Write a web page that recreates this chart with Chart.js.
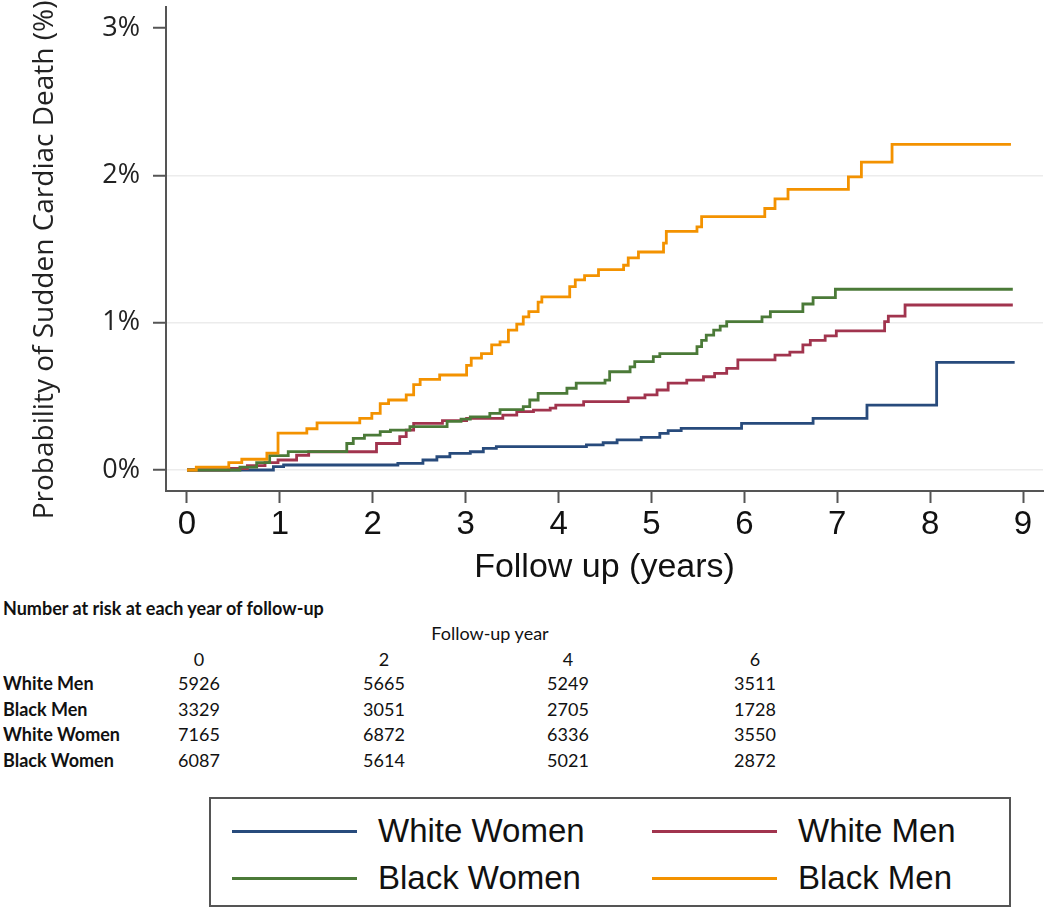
<!DOCTYPE html>
<html>
<head>
<meta charset="utf-8">
<script src="https://cdn.jsdelivr.net/npm/chart.js@4.4.1/dist/chart.umd.min.js"></script>
<style>
  body { margin: 0; background: #fff; width: 1050px; height: 915px; position: relative; overflow: hidden; }
  #wrap { position: absolute; left: 0; top: 0; width: 1050px; height: 590px; }
  .tx { position: absolute; font-family: Lato, "Open Sans", sans-serif; font-size: 18px; color: #111; white-space: nowrap; line-height: 1; }
  .b { font-weight: bold; }
  .c { transform: translateX(-50%); }
  #legend { position: absolute; left: 209px; top: 797px; width: 798px; height: 106px; border: 2px solid #555; }
  .lg { position: absolute; font-family: "Liberation Sans", Arial, sans-serif; font-size: 33px; color: #111; line-height: 1; }
  .ln { position: absolute; width: 125px; height: 3px; }
</style>
</head>
<body>
<div id="wrap"><canvas id="km"></canvas></div>

<div class="tx b" style="left:3px; top:599px;">Number at risk at each year of follow-up</div>
<div class="tx c" style="left:490px; top:624px;">Follow-up year</div>
<div id="risk"></div>

<div id="legend"></div>

<script>
document.addEventListener('DOMContentLoaded', () => {
  // step points: time (years) -> cumulative probability (%)
  const whiteWomenT = [0, 0.93, 1.04, 2.27, 2.54, 2.69, 2.83, 3.05, 3.19, 3.33, 4.30, 4.48, 4.63, 4.89, 5.09, 5.18, 5.32, 5.97, 6.74, 7.32, 8.07, 8.91];
  const whiteWomenP = [0, 0.023, 0.034, 0.045, 0.068, 0.09, 0.113, 0.124, 0.147, 0.158, 0.17, 0.185, 0.204, 0.222, 0.249, 0.267, 0.283, 0.317, 0.35, 0.44, 0.73, 0.73];

  const whiteMenT = [0, 0.45, 0.65, 0.84, 0.98, 1.18, 1.31, 2.04, 2.29, 2.36, 2.44, 2.75, 3.01, 3.40, 3.55, 3.73, 3.91, 3.97, 4.27, 4.75, 4.93, 5.06, 5.18, 5.38, 5.56, 5.68, 5.81, 5.93, 6.33, 6.49, 6.63, 6.71, 6.87, 6.99, 7.51, 7.55, 7.73, 8.89];
  const whiteMenP = [0, 0.01, 0.03, 0.05, 0.068, 0.10, 0.124, 0.18, 0.226, 0.27, 0.317, 0.335, 0.35, 0.373, 0.396, 0.407, 0.42, 0.44, 0.464, 0.49, 0.51, 0.543, 0.59, 0.61, 0.633, 0.656, 0.69, 0.747, 0.78, 0.80, 0.85, 0.88, 0.91, 0.945, 1.007, 1.045, 1.12, 1.12];

  const blackWomenT = [0, 0.57, 0.75, 0.89, 1.09, 1.72, 1.79, 1.91, 2.08, 2.19, 2.40, 2.80, 2.95, 3.05, 3.26, 3.37, 3.62, 3.69, 3.78, 4.09, 4.19, 4.50, 4.55, 4.77, 4.82, 5.02, 5.09, 5.49, 5.54, 5.59, 5.67, 5.74, 5.81, 6.19, 6.28, 6.63, 6.74, 6.98, 8.89];
  const blackWomenP = [0, 0.02, 0.05, 0.097, 0.125, 0.18, 0.215, 0.237, 0.26, 0.27, 0.294, 0.33, 0.345, 0.36, 0.385, 0.41, 0.43, 0.475, 0.52, 0.555, 0.59, 0.61, 0.667, 0.70, 0.735, 0.77, 0.79, 0.837, 0.88, 0.916, 0.95, 0.977, 1.007, 1.04, 1.075, 1.127, 1.17, 1.227, 1.227];

  const blackMenT = [0, 0.10, 0.45, 0.59, 0.86, 0.98, 1.29, 1.40, 1.86, 1.99, 2.08, 2.17, 2.36, 2.44, 2.51, 2.72, 3.01, 3.06, 3.17, 3.28, 3.37, 3.46, 3.55, 3.62, 3.68, 3.78, 3.82, 4.12, 4.18, 4.28, 4.43, 4.70, 4.75, 4.86, 5.13, 5.16, 5.49, 5.54, 6.22, 6.33, 6.47, 7.12, 7.26, 7.59, 8.87];
  const blackMenP = [0, 0.02, 0.05, 0.073, 0.115, 0.25, 0.28, 0.32, 0.35, 0.385, 0.45, 0.475, 0.51, 0.58, 0.615, 0.645, 0.71, 0.76, 0.79, 0.85, 0.87, 0.95, 0.99, 1.04, 1.075, 1.14, 1.175, 1.245, 1.29, 1.32, 1.36, 1.39, 1.44, 1.48, 1.54, 1.62, 1.65, 1.72, 1.775, 1.84, 1.905, 1.99, 2.09, 2.21, 2.21];

  // number at risk table
  const riskYears = [0, 2, 4, 6];
  const riskGroups = ['White Men', 'Black Men', 'White Women', 'Black Women'];
  const riskWhiteMen = [5926, 5665, 5249, 3511];
  const riskBlackMen = [3329, 3051, 2705, 1728];
  const riskWhiteWomen = [7165, 6872, 6336, 3550];
  const riskBlackWomen = [6087, 5614, 5021, 2872];

  const legendLabels = ['White Women', 'White Men', 'Black Women', 'Black Men'];
  const COLORS = { ww: '#284b7c', wm: '#a1344e', bw: '#4b7a38', bm: '#f39200' };

  const pts = (t, p) => t.map((x, i) => ({ x, y: p[i] }));

  const mkSet = (label, t, p, color, order) => ({
    label,
    data: pts(t, p),
    borderColor: color,
    backgroundColor: color,
    borderWidth: 2.8,
    pointRadius: 0,
    stepped: true,
    fill: false,
    order,
  });

  const datasets = [
    mkSet('White Women', whiteWomenT, whiteWomenP, COLORS.ww, 4),
    mkSet('White Men', whiteMenT, whiteMenP, COLORS.wm, 3),
    mkSet('Black Women', blackWomenT, blackWomenP, COLORS.bw, 2),
    mkSet('Black Men', blackMenT, blackMenP, COLORS.bm, 1),
  ];

  const axisCol = '#555';

  new Chart(document.getElementById('km'), {
    type: 'line',
    data: { datasets },
    options: {
      responsive: true,
      maintainAspectRatio: false,
      animation: false,
      layout: { padding: { top: 7, right: 7, left: 0, bottom: 0 } },
      plugins: { legend: { display: false }, tooltip: { enabled: false } },
      scales: {
        x: {
          type: 'linear',
          min: -0.226,
          max: 9.215,
          afterFit: (s) => { s.height = 99; s.paddingLeft = 0; s.paddingRight = 0; },
          border: { display: true, color: axisCol, width: 2 },
          grid: { drawOnChartArea: false, drawTicks: true, tickLength: 12, tickColor: axisCol, tickWidth: 2 },
          ticks: {
            stepSize: 1,
            includeBounds: false,
            padding: 2,
            color: '#111',
            font: { family: '"Liberation Sans", Arial, sans-serif', size: 33 },
          },
          title: {
            display: true,
            text: 'Follow up (years)',
            color: '#111',
            font: { family: '"Liberation Sans", Arial, sans-serif', size: 34, lineHeight: 1 },
            padding: { top: 0, bottom: 5 },
          },
        },
        y: {
          min: -0.1426,
          max: 3.143,
          afterFit: (s) => { s.width = 166; s.paddingTop = 0; s.paddingBottom = 0; },
          border: { display: true, color: axisCol, width: 2 },
          grid: {
            drawTicks: true,
            tickLength: 13,
            tickColor: axisCol,
            tickWidth: 2,
            lineWidth: 1.5,
            color: (ctx) => (ctx.tick && ctx.tick.value === 3 ? 'rgba(0,0,0,0)' : '#ececec'),
          },
          ticks: {
            stepSize: 1,
            includeBounds: false,
            padding: 13,
            color: '#222',
            font: { family: '"Open Sans", sans-serif', size: 27 },
            callback: (v) => v + '%',
          },
          title: {
            display: true,
            // trailing spaces nudge the rotated title down a little, as in the original
            text: 'Probability of Sudden Cardiac Death (%)   ',
            color: '#222',
            font: { family: '"Open Sans", sans-serif', size: 28, lineHeight: 1 },
            padding: { top: 31, bottom: 0 },
          },
        },
      },
    },
  });

  // number at risk table
  const risk = document.getElementById('risk');
  const colX = [199, 384, 568, 755];
  const rowY = [674, 700, 725, 751];
  const rows = [riskWhiteMen, riskBlackMen, riskWhiteWomen, riskBlackWomen];
  riskYears.forEach((yr, j) => {
    const d = document.createElement('div');
    d.className = 'tx c';
    d.style.left = colX[j] + 'px';
    d.style.top = '650px';
    d.textContent = yr;
    risk.appendChild(d);
  });
  riskGroups.forEach((g, i) => {
    const d = document.createElement('div');
    d.className = 'tx b';
    d.style.left = '3px';
    d.style.top = rowY[i] + 'px';
    d.textContent = g;
    risk.appendChild(d);
    rows[i].forEach((n, j) => {
      const c = document.createElement('div');
      c.className = 'tx c';
      c.style.left = colX[j] + 'px';
      c.style.top = rowY[i] + 'px';
      c.textContent = n;
      risk.appendChild(c);
    });
  });

  // legend box
  const legend = document.getElementById('legend');
  const legendColors = [COLORS.ww, COLORS.wm, COLORS.bw, COLORS.bm];
  legendLabels.forEach((lab, i) => {
    const col = i % 2, row = Math.floor(i / 2);
    const lx = col === 0 ? 21 : 441;
    const ly = row === 0 ? 32 : 79;
    const ln = document.createElement('div');
    ln.className = 'ln';
    ln.style.left = lx + 'px';
    ln.style.top = (ly - 1) + 'px';
    ln.style.background = legendColors[i];
    legend.appendChild(ln);
    const t = document.createElement('div');
    t.className = 'lg';
    t.style.left = (lx + 146) + 'px';
    t.style.top = (ly - 17) + 'px';
    t.textContent = lab;
    legend.appendChild(t);
  });
});
</script>
</body>
</html>
